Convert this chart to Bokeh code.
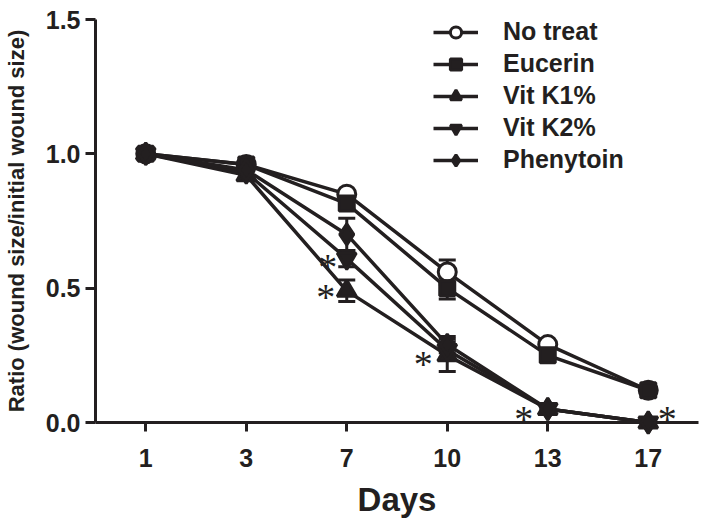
from bokeh.plotting import figure
from bokeh.models import (ColumnDataSource, FixedTicker, Whisker, TeeHead, Legend,
                          LegendItem, Range1d, PrintfTickFormatter)
from bokeh.embed import file_html
from bokeh.resources import INLINE

# ---------------- data ----------------
days = ["1", "3", "7", "10", "13", "17"]
no_treat = [1.0, 0.96, 0.85, 0.56, 0.29, 0.12]
no_treat_err = [0.0, 0.01, 0.01, 0.045, 0.01, 0.01]
eucerin = [1.0, 0.96, 0.815, 0.50, 0.25, 0.12]
eucerin_err = [0.0, 0.01, 0.02, 0.04, 0.01, 0.01]
vitk1 = [1.0, 0.92, 0.49, 0.25, 0.05, 0.0]
vitk1_err = [0.0, 0.01, 0.04, 0.06, 0.01, 0.0]
vitk2 = [1.0, 0.93, 0.61, 0.27, 0.05, 0.0]
vitk2_err = [0.0, 0.01, 0.03, 0.03, 0.01, 0.0]
phenytoin = [1.0, 0.94, 0.70, 0.29, 0.05, 0.0]
phenytoin_err = [0.0, 0.01, 0.06, 0.03, 0.01, 0.0]

star_day = ["7", "7", "10", "13", "17"]
star_value = [0.61, 0.49, 0.26, 0.05, 0.0]

# ---------------- style ----------------
INK = "#231f20"
FONT = "Liberation Sans"
xs = list(range(len(days)))

p = figure(width=704, height=523, output_backend="svg", toolbar_location=None,
           x_range=Range1d(-0.5, 5.5), y_range=Range1d(0, 1.5),
           min_border_left=95, min_border_right=6, min_border_top=19,
           min_border_bottom=101)
p.outline_line_color = None
p.xgrid.visible = False
p.ygrid.visible = False
p.background_fill_color = "white"

for ax in (p.xaxis[0], p.yaxis[0]):
    ax.axis_line_width = 3
    ax.axis_line_color = INK
    ax.major_tick_line_width = 3
    ax.major_tick_line_color = INK
    ax.major_tick_in = 0
    ax.minor_tick_line_color = None
    ax.major_label_text_font = FONT
    ax.major_label_text_font_style = "bold"
    ax.major_label_text_font_size = "25px"
    ax.major_label_text_color = INK
    ax.axis_label_text_font = FONT
    ax.axis_label_text_font_style = "bold"
    ax.axis_label_text_color = INK

p.xaxis.ticker = FixedTicker(ticks=xs)
p.xaxis.major_label_overrides = {i: d for i, d in zip(xs, days)}
p.xaxis.major_tick_out = 9
p.xaxis.major_label_standoff = 17
p.xaxis.axis_label = "Days"
p.xaxis.axis_label_text_font_size = "33px"
p.xaxis.axis_label_standoff = 11

p.yaxis.ticker = FixedTicker(ticks=[0, 0.5, 1.0, 1.5])
p.yaxis.formatter = PrintfTickFormatter(format="%.1f")
p.yaxis.major_tick_out = 10
p.yaxis.major_label_standoff = 5
p.yaxis.axis_label = "Ratio (wound size/initial wound size)"
p.yaxis.axis_label_text_font_size = "22px"
p.yaxis.axis_label_standoff = 14

# (name, values, errors, marker, size, fill)
series = [
    ("No treat", no_treat, no_treat_err, "circle", 18, "white"),
    ("Eucerin", eucerin, eucerin_err, "square", 15, INK),
    ("Vit K1%", vitk1, vitk1_err, "triangle", 19, INK),
    ("Vit K2%", vitk2, vitk2_err, "inverted_triangle", 19, INK),
    ("Phenytoin", phenytoin, phenytoin_err, "diamond", 21, INK),
]

items = []
for name, vals, errs, marker, size, fill in series:
    src = ColumnDataSource(dict(x=xs, y=vals))
    lr = p.line("x", "y", source=src, line_width=3.5, line_color=INK)
    ex = [x for x, e in zip(xs, errs) if e > 0.015]
    eu = [v + e for v, e in zip(vals, errs) if e > 0.015]
    el = [v - e for v, e in zip(vals, errs) if e > 0.015]
    if ex:
        esrc = ColumnDataSource(dict(x=ex, upper=eu, lower=el))
        w = Whisker(base="x", upper="upper", lower="lower", source=esrc,
                    line_width=3, line_color=INK,
                    upper_head=TeeHead(size=17, line_width=3, line_color=INK),
                    lower_head=TeeHead(size=17, line_width=3, line_color=INK))
        p.add_layout(w)
    mr = p.scatter("x", "y", source=src, marker=marker, size=size,
                   fill_color=fill, line_color=INK, line_width=3)
    mr.level = "overlay"
    items.append(LegendItem(label=name, renderers=[lr, mr]))

legend = Legend(items=items, location=(338, 248), padding=0, margin=0,
                spacing=3, glyph_width=45, glyph_height=28, label_height=28,
                label_standoff=25, label_text_font=FONT,
                label_text_font_style="bold", label_text_font_size="25px",
                label_text_color=INK, border_line_color=None,
                background_fill_alpha=0)
p.add_layout(legend)

# significance asterisks (offsets in screen pixels from the marked point)
star_x = [days.index(d) for d in star_day]
star_dx = [-19, -21, -24, -24, 19]
star_dy = [8, 6, 11, 10, -4]
ssrc = ColumnDataSource(dict(x=star_x, y=star_value, xo=star_dx, yo=star_dy,
                             t=["*"] * len(star_x)))
tr = p.text("x", "y", text="t", source=ssrc, x_offset="xo", y_offset="yo",
            text_align="center", text_baseline="middle",
            text_font_size="38px", text_color=INK)
tr.glyph.text_font = FONT
tr.level = "overlay"

open("out.html", "w").write(file_html(p, INLINE))
